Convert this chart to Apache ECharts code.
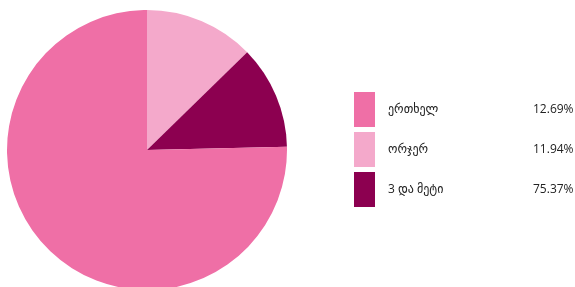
<!DOCTYPE html>
<html>
<head>
<meta charset="utf-8">
<script src="https://cdn.jsdelivr.net/npm/echarts@6/dist/echarts.min.js"></script>
<style>
    html, body { margin: 0; padding: 0; background: #fff; }
    #chart { width: 575px; height: 287px; }
</style>
</head>
<body>
<div id="chart"></div>
<script>
var names = ['ერთხელ', 'ორჯერ', '3 და მეტი'];
var values = [12.69, 11.94, 75.37];
var sliceColors = ['#f4a9cb', '#8c0050', '#ef6fa6'];
var legendColors = ['#ef6fa6', '#f4a9cb', '#8c0050'];

var myChart = echarts.init(document.getElementById('chart'));
var pieData = [], legendData = [];
for (var i = 0; i < names.length; i++) {
    pieData.push({ name: names[i], value: values[i], itemStyle: { color: sliceColors[i] } });
    legendData.push({ name: names[i], itemStyle: { color: legendColors[i] } });
}

var option = {
    animation: false,
    legend: {
        orient: 'vertical',
        left: 354,
        top: 92,
        padding: 0,
        icon: 'rect',
        itemWidth: 21,
        itemHeight: 35,
        itemGap: 5,
        data: legendData,
        formatter: function (name) {
            var idx = names.indexOf(name);
            return '{n|' + name + '}{p|' + values[idx].toFixed(2) + '%}';
        },
        textStyle: {
            rich: {
                n: { width: 145, padding: [0, 0, 0, 8], fontSize: 12, color: '#222', fontFamily: 'Open Sans, DejaVu Sans' },
                p: { fontSize: 12, color: '#222', fontFamily: 'Open Sans, DejaVu Sans' }
            }
        }
    },
    series: [{
        type: 'pie',
        center: [147, 150],
        radius: 140,
        startAngle: 90,
        clockwise: true,
        label: { show: false },
        labelLine: { show: false },
        emphasis: { disabled: true },
        data: pieData
    }]
};
myChart.setOption(option);
</script>
</body>
</html>
